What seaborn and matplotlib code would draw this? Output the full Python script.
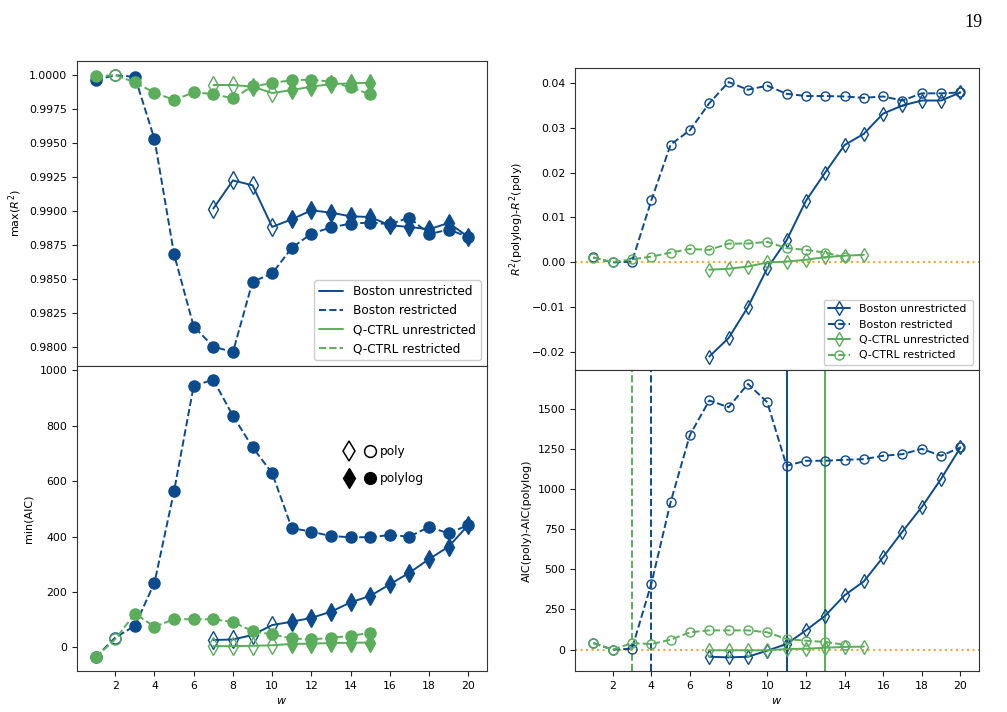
import numpy as np
import pandas as pd
import matplotlib
matplotlib.use("Agg")
import matplotlib.pyplot as plt
import seaborn as sns
from matplotlib.lines import Line2D
from matplotlib.legend_handler import HandlerTuple

# ---------------- data ----------------
w_all = list(range(1, 21))
w_b_un = list(range(7, 21))
w_q_re = list(range(1, 16))
w_q_un = list(range(7, 16))
w_q_re_diff = list(range(1, 15))

# max(R^2)
r2_boston_res = [0.99966, 0.99998, 0.99988, 0.99529, 0.98682, 0.98152, 0.98005, 0.97964,
                 0.98481, 0.98542, 0.98730, 0.98835, 0.98880, 0.98909, 0.98916, 0.98904,
                 0.98953, 0.98831, 0.98865, 0.98811]
r2_boston_res_poly = [False, True] + [False] * 18
r2_boston_un = [0.99019, 0.99226, 0.99190, 0.98884, 0.98940, 0.99006, 0.98989, 0.98962,
                0.98957, 0.98896, 0.98884, 0.98867, 0.98913, 0.98811]
r2_boston_un_poly = [True, True, True, True] + [False] * 10
r2_qctrl_res = [0.99990, 1.00000, 0.99946, 0.99871, 0.99817, 0.99873, 0.99861, 0.99829,
                0.99917, 0.99941, 0.99963, 0.99966, 0.99951, 0.99910, 0.99858]
r2_qctrl_res_poly = [False, True] + [False] * 13
r2_qctrl_un = [0.99927, 0.99927, 0.99915, 0.99868, 0.99890, 0.99915, 0.99934, 0.99939, 0.99944]
r2_qctrl_un_poly = [True, True, False, True, False, False, False, False, False]

# min(AIC)
aic_boston_res = [-35, 36, 78, 234, 565, 945, 966, 836, 723, 629, 431, 418, 402, 398, 398,
                  406, 400, 435, 412, 442]
aic_boston_res_poly = [False, True] + [False] * 18
aic_boston_un = [27, 29, 45, 81, 93, 107, 129, 163, 186, 228, 270, 319, 364, 442]
aic_boston_un_poly = [True, True, True, True] + [False] * 10
aic_qctrl_res = [-35, 30, 122, 75, 102, 102, 102, 92, 59, 47, 33, 29, 35, 42, 53]
aic_qctrl_res_poly = [False, True] + [False] * 13
aic_qctrl_un = [5, 5, 6, 8, 13, 14, 16, 17, 18]
aic_qctrl_un_poly = [True, True, True, True, False, False, False, False, False]

# R2(polylog) - R2(poly)
dr2_boston_res = [0.00112, 0.0000, 0.0002, 0.0138, 0.0262, 0.0294, 0.0354, 0.0401, 0.0384,
                  0.0393, 0.0375, 0.0370, 0.0370, 0.0369, 0.0366, 0.0369, 0.0360, 0.0376,
                  0.0376, 0.0378]
dr2_boston_un = [-0.0209, -0.0168, -0.0099, -0.0013, 0.0049, 0.0137, 0.0200, 0.0261, 0.0286,
                 0.0331, 0.0349, 0.0360, 0.0360, 0.0378]
dr2_qctrl_res = [0.0011, 0.0001, 0.0007, 0.0013, 0.0022, 0.0030, 0.0028, 0.0042, 0.0042,
                 0.0046, 0.0032, 0.0028, 0.0022, 0.0012]
dr2_qctrl_un = [-0.0016, -0.0014, -0.0009, 0.0000, 0.0002, 0.0006, 0.0012, 0.0015, 0.0017]

# AIC(poly) - AIC(polylog)
daic_boston_res = [41, 0, 6, 410, 918, 1336, 1550, 1508, 1653, 1539, 1144, 1175, 1175, 1181,
                   1185, 1206, 1216, 1249, 1206, 1258]
daic_boston_un = [-44, -48, -44, -6, 35, 120, 211, 338, 425, 576, 735, 887, 1063, 1258]
daic_qctrl_res = [41, 0, 41, 35, 62, 108, 120, 120, 120, 108, 66, 56, 48, 31]
daic_qctrl_un = [-4, -4, -4, -4, 4, 6, 12, 17, 19]

# vertical reference lines (w values)
vline_qctrl_res, vline_boston_res, vline_boston_un, vline_qctrl_un = 3, 4, 11, 13

series_labels = ["Boston unrestricted", "Boston restricted",
                 "Q-CTRL unrestricted", "Q-CTRL restricted"]

BLUE = "#0c4a8e"
GREEN = "#5aad5a"
ORANGE = "#f0a830"

sns.set_style("ticks")
plt.rcParams["font.family"] = ["DejaVu Sans"]
plt.rcParams["axes.edgecolor"] = "#333333"
plt.rcParams["text.color"] = "black"
plt.rcParams["axes.labelcolor"] = "black"
plt.rcParams["xtick.color"] = "#222222"
plt.rcParams["ytick.color"] = "#222222"
plt.rcParams["xtick.labelcolor"] = "black"
plt.rcParams["ytick.labelcolor"] = "black"
plt.rcParams["mathtext.fontset"] = "dejavusans"

fig = plt.figure(figsize=(10.07, 7.12), dpi=100)
ax_tl = fig.add_axes([0.0765, 0.486, 0.407, 0.428])
ax_bl = fig.add_axes([0.0765, 0.0575, 0.407, 0.4285], sharex=ax_tl)
ax_tr = fig.add_axes([0.571, 0.480, 0.401, 0.424])
ax_br = fig.add_axes([0.571, 0.0575, 0.401, 0.4225], sharex=ax_tr)

LW = 1.4


def left_series(ax, w, vals, poly, color, ls, marker, ms):
    df = pd.DataFrame({"w": w, "v": vals})
    sns.lineplot(data=df, x="w", y="v", ax=ax, color=color, linestyle=ls, linewidth=LW,
                 errorbar=None)
    poly = np.asarray(poly)
    wa = np.asarray(w)
    va = np.asarray(vals)
    ax.plot(wa[~poly], va[~poly], ls="none", marker=marker, ms=ms, color=color, mec=color)
    ax.plot(wa[poly], va[poly], ls="none", marker=marker, ms=ms, mfc="none", mec=color,
            mew=1.0)


def right_series(ax, w, vals, color, ls, marker, ms, label):
    df = pd.DataFrame({"w": w, "v": vals})
    sns.lineplot(data=df, x="w", y="v", ax=ax, color=color, linestyle=ls, linewidth=LW,
                 marker=marker, markersize=ms, markerfacecolor="none", markeredgecolor=color,
                 markeredgewidth=1.0, errorbar=None, label=label)


CMS = 8.0
DMS = 9.0
# top-left
left_series(ax_tl, w_all, r2_boston_res, r2_boston_res_poly, BLUE, "--", "o", CMS)
left_series(ax_tl, w_b_un, r2_boston_un, r2_boston_un_poly, BLUE, "-", "d", DMS)
left_series(ax_tl, w_q_re, r2_qctrl_res, r2_qctrl_res_poly, GREEN, "--", "o", CMS)
left_series(ax_tl, w_q_un, r2_qctrl_un, r2_qctrl_un_poly, GREEN, "-", "d", DMS)
handles = [Line2D([], [], color=BLUE, ls="-", lw=LW), Line2D([], [], color=BLUE, ls="--", lw=LW),
           Line2D([], [], color=GREEN, ls="-", lw=LW), Line2D([], [], color=GREEN, ls="--", lw=LW)]
ax_tl.legend(handles, series_labels, loc="lower right", fontsize=8.7, framealpha=1,
             edgecolor="#cccccc", fancybox=True)
ax_tl.set_ylabel("max($R^2$)", fontsize=8)
ax_tl.set_xlabel("")
ax_tl.tick_params(labelbottom=False, labelsize=7.8)

# bottom-left
left_series(ax_bl, w_all, aic_boston_res, aic_boston_res_poly, BLUE, "--", "o", CMS)
left_series(ax_bl, w_b_un, aic_boston_un, aic_boston_un_poly, BLUE, "-", "d", DMS)
left_series(ax_bl, w_q_re, aic_qctrl_res, aic_qctrl_res_poly, GREEN, "--", "o", CMS)
left_series(ax_bl, w_q_un, aic_qctrl_un, aic_qctrl_un_poly, GREEN, "-", "d", DMS)
h_poly = (Line2D([], [], ls="none", marker="d", ms=DMS + 1, mfc="none", mec="black", mew=1.1),
          Line2D([], [], ls="none", marker="o", ms=CMS + 0.5, mfc="none", mec="black", mew=1.1))
h_plog = (Line2D([], [], ls="none", marker="d", ms=DMS + 1, color="black"),
          Line2D([], [], ls="none", marker="o", ms=CMS + 0.5, color="black"))
ax_bl.legend([h_poly, h_plog], ["poly", "polylog"], loc="upper left",
             bbox_to_anchor=(0.625, 0.775), frameon=False, fontsize=8.7,
             handler_map={tuple: HandlerTuple(ndivide=None, pad=0.9)},
             handlelength=2.6, labelspacing=1.1, handletextpad=0.35)
ax_bl.set_ylabel("min(AIC)", fontsize=8)
ax_bl.set_xlabel("$w$", fontsize=8)
ax_bl.set_xticks([2, 4, 6, 8, 10, 12, 14, 16, 18, 20])
ax_bl.tick_params(labelsize=7.8)

# top-right
RCMS = 6.5
RDMS = 7.5
ax_tr.axhline(0, color=ORANGE, ls=":", lw=1.5)
right_series(ax_tr, w_b_un, dr2_boston_un, BLUE, "-", "d", RDMS, series_labels[0])
right_series(ax_tr, w_all, dr2_boston_res, BLUE, "--", "o", RCMS, series_labels[1])
right_series(ax_tr, w_q_un, dr2_qctrl_un, GREEN, "-", "d", RDMS, series_labels[2])
right_series(ax_tr, w_q_re_diff, dr2_qctrl_res, GREEN, "--", "o", RCMS, series_labels[3])
ax_tr.legend(loc="lower right", fontsize=7.8, framealpha=1, edgecolor="#cccccc",
             handlelength=2.0)
ax_tr.set_ylabel("$R^2$(polylog)-$R^2$(poly)", fontsize=8)
ax_tr.set_xlabel("")
ax_tr.tick_params(labelbottom=False, labelsize=7.8)

# bottom-right
ax_br.axhline(0, color=ORANGE, ls=":", lw=1.5)
ax_br.axvline(vline_qctrl_res, color=GREEN, ls="--", lw=LW)
ax_br.axvline(vline_boston_res, color=BLUE, ls="--", lw=LW)
ax_br.axvline(vline_boston_un, color=BLUE, ls="-", lw=LW)
ax_br.axvline(vline_qctrl_un, color=GREEN, ls="-", lw=LW)
right_series(ax_br, w_b_un, daic_boston_un, BLUE, "-", "d", RDMS, None)
right_series(ax_br, w_all, daic_boston_res, BLUE, "--", "o", RCMS, None)
right_series(ax_br, w_q_un, daic_qctrl_un, GREEN, "-", "d", RDMS, None)
right_series(ax_br, w_q_re_diff, daic_qctrl_res, GREEN, "--", "o", RCMS, None)
if ax_br.get_legend() is not None:
    ax_br.get_legend().remove()
ax_br.set_ylabel("AIC(poly)-AIC(polylog)", fontsize=8)
ax_br.set_xlabel("$w$", fontsize=8)
ax_br.set_xticks([2, 4, 6, 8, 10, 12, 14, 16, 18, 20])
ax_br.set_yticks([0, 250, 500, 750, 1000, 1250, 1500])
ax_br.tick_params(labelsize=7.8)

fig.text(0.958, 0.962, "19", family="Liberation Serif", fontsize=13)

fig.savefig("out.png", dpi=100)
